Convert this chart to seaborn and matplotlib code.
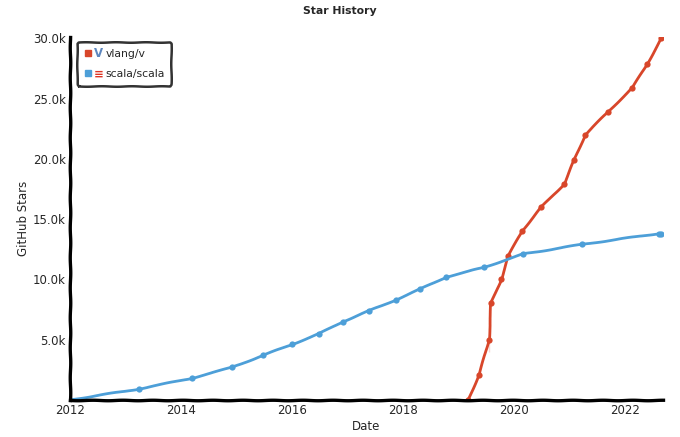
import matplotlib
matplotlib.use("Agg")
import matplotlib.pyplot as plt
import matplotlib.ticker as mticker
import matplotlib.dates as mdates
import seaborn as sns
import pandas as pd

# star counts (thousands of stars, date as decimal year)
vlang_years = [2019.17, 2019.37, 2019.55, 2019.55, 2019.58, 2019.77, 2019.89,
               2020.14, 2020.49, 2020.90, 2021.08, 2021.28, 2021.69, 2022.13,
               2022.40, 2022.65]
vlang_stars = [0, 2.1, 4.0, 6.0, 8.0, 10.0, 11.9, 14.0, 16.0, 17.9, 19.9,
               22.0, 23.9, 25.9, 27.9, 30.0]

scala_years = [2012.0, 2013.24, 2014.2, 2014.92, 2015.48, 2016.0, 2016.49,
               2016.92, 2017.39, 2017.87, 2018.31, 2018.78, 2019.46, 2020.16,
               2021.22, 2022.60, 2022.65]
scala_stars = [0, 0.9, 1.8, 2.7, 3.7, 4.6, 5.5, 6.5, 7.4, 8.3, 9.2, 10.2,
               11.0, 12.1, 12.9, 13.8, 13.8]

repos = ["vlang/v", "scala/scala"]
colors = ["#d8462a", "#4d9fd8"]
icons = ["V", "\u2261"]
icon_colors = ["#5d87bf", "#de3423"]


def to_date(y):
    return pd.Timestamp("2012-01-01") + pd.Timedelta(days=(y - 2012) * 365.25)


df = pd.concat([
    pd.DataFrame({"date": [to_date(y) for y in vlang_years],
                  "stars": [s * 1000 for s in vlang_stars], "repo": repos[0]}),
    pd.DataFrame({"date": [to_date(y) for y in scala_years],
                  "stars": [s * 1000 for s in scala_stars], "repo": repos[1]}),
])

sns.set_style("white")
plt.xkcd(scale=0.35, length=60, randomness=2)
plt.rcParams["font.family"] = ["DejaVu Sans"]
plt.rcParams["path.effects"] = []

fig = plt.figure(figsize=(6.8, 4.37), dpi=100)
ax = fig.add_axes([0.103, 0.085, 0.872, 0.83])

sns.lineplot(data=df, x="date", y="stars", hue="repo", palette=colors,
             marker="o", markersize=4.5, markeredgewidth=0, linewidth=2,
             ax=ax, legend=False)

ax.set_xlim(to_date(2012.0), to_date(2022.68))
ax.set_ylim(0, 30100)
ax.yaxis.set_major_locator(mticker.MultipleLocator(5000))
ax.yaxis.set_major_formatter(mticker.FuncFormatter(
    lambda v, p: "" if v == 0 else f"{v / 1000:.1f}k"))
ax.xaxis.set_major_locator(mdates.YearLocator(2))
ax.xaxis.set_major_formatter(mdates.DateFormatter("%Y"))
ax.tick_params(length=0, labelsize=8.5, pad=3)

for side in ["top", "right"]:
    ax.spines[side].set_visible(False)
for side in ["left", "bottom"]:
    ax.spines[side].set_linewidth(2.4)
    ax.spines[side].set_color("black")
    ax.spines[side].set_sketch_params(0.25, 30, 1)

fig.text(0.5, 0.975, "Star History", ha="center", va="center",
         fontsize=7.8, fontweight="bold")
ax.set_xlabel("Date", fontsize=8.5, labelpad=2)
ax.set_ylabel("GitHub Stars", fontsize=8.5, labelpad=2)

# legend: square swatch, repo icon, name
handles = [plt.Line2D([], [], marker="s", linestyle="none", color=c,
                      markersize=5) for c in colors]
leg = ax.legend(handles, repos, loc="upper left",
                bbox_to_anchor=(0.006, 0.995), fontsize=7.8, frameon=True,
                handlelength=0.8, handletextpad=1.25, borderpad=0.6,
                labelspacing=0.95, fancybox=True, borderaxespad=0.3)
leg.get_frame().set_edgecolor("black")
leg.get_frame().set_linewidth(1.8)
leg.get_frame().set_sketch_params(0.25, 30, 1)
fig.canvas.draw()
for txt, icon, ic in zip(leg.get_texts(), icons, icon_colors):
    bb = txt.get_window_extent()
    fig.text((bb.x0 - 7) / fig.dpi / 6.8, (bb.y0 + bb.y1) / 2 / fig.dpi / 4.37,
             icon, color=ic, fontsize=8.5, fontweight="bold", va="center",
             ha="center")

fig.savefig("out.png", dpi=100)
